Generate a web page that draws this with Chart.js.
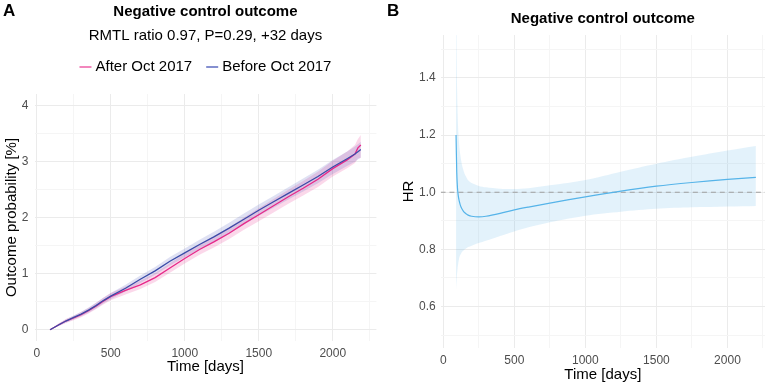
<!DOCTYPE html>
<html>
<head>
<meta charset="utf-8">
<script src="https://cdn.jsdelivr.net/npm/chart.js@4.4.1/dist/chart.umd.min.js"></script>
<style>
  html, body { margin: 0; padding: 0; background: #fff; }
  #wrap { position: relative; width: 768px; height: 385px; }
  canvas { position: absolute; top: 0; }
  #chartA { left: 0; }
  #chartB { left: 384px; }
</style>
</head>
<body>
<div id="wrap">
  <canvas id="chartA" width="384" height="385"></canvas>
  <canvas id="chartB" width="384" height="385"></canvas>
</div>
<script>
// ---- panel A: cumulative outcome probability [%]
const daysA = [90, 150, 200, 250, 300, 350, 400, 450, 500, 600, 700, 800, 900, 1000, 1100, 1200, 1300, 1400, 1500, 1600, 1700, 1800, 1900, 2000, 2100, 2150, 2170, 2190]
const afterOct = [0, 0.09, 0.16, 0.21, 0.27, 0.34, 0.42, 0.51, 0.59, 0.70, 0.80, 0.93, 1.10, 1.27, 1.43, 1.57, 1.72, 1.89, 2.05, 2.21, 2.37, 2.52, 2.68, 2.87, 3.03, 3.13, 3.24, 3.29]
const afterLow = [0, 0.065, 0.125, 0.17, 0.225, 0.29, 0.365, 0.45, 0.525, 0.63, 0.725, 0.85, 1.015, 1.18, 1.335, 1.47, 1.615, 1.78, 1.935, 2.09, 2.245, 2.39, 2.545, 2.73, 2.88, 2.97, 3.05, 3.06]
const afterHigh = [0, 0.115, 0.195, 0.25, 0.315, 0.39, 0.475, 0.57, 0.655, 0.77, 0.875, 1.01, 1.185, 1.36, 1.525, 1.67, 1.825, 2.0, 2.165, 2.33, 2.495, 2.65, 2.815, 3.01, 3.18, 3.29, 3.40, 3.47]
const beforeOct = [0, 0.09, 0.16, 0.22, 0.28, 0.35, 0.43, 0.52, 0.60, 0.74, 0.90, 1.05, 1.22, 1.37, 1.52, 1.66, 1.81, 1.97, 2.13, 2.28, 2.43, 2.58, 2.73, 2.90, 3.05, 3.13, 3.17, 3.21]
const beforeLow = [0, 0.07, 0.13, 0.185, 0.24, 0.305, 0.38, 0.47, 0.545, 0.68, 0.835, 0.98, 1.145, 1.29, 1.435, 1.57, 1.715, 1.87, 2.03, 2.175, 2.32, 2.465, 2.61, 2.775, 2.92, 2.995, 3.035, 3.07]
const beforeHigh = [0, 0.11, 0.19, 0.255, 0.32, 0.395, 0.48, 0.57, 0.655, 0.80, 0.965, 1.12, 1.295, 1.45, 1.605, 1.75, 1.905, 2.07, 2.23, 2.385, 2.54, 2.695, 2.85, 3.025, 3.18, 3.265, 3.305, 3.35]

// ---- panel B: time-varying hazard ratio
const daysB = [90, 95, 100, 105, 110, 115, 120, 130, 140, 150, 160, 175, 200, 250, 300, 400, 500, 600, 750, 1000, 1250, 1500, 1750, 2000, 2200]
const hr = [1.20, 1.07, 1.015, 0.99, 0.975, 0.964, 0.955, 0.943, 0.935, 0.929, 0.925, 0.92, 0.916, 0.914, 0.916, 0.926, 0.938, 0.948, 0.962, 0.984, 1.004, 1.021, 1.034, 1.045, 1.052]
const hrLow = [0.66, 0.70, 0.73, 0.75, 0.765, 0.775, 0.78, 0.79, 0.795, 0.80, 0.803, 0.808, 0.813, 0.822, 0.83, 0.847, 0.863, 0.877, 0.895, 0.918, 0.932, 0.942, 0.947, 0.95, 0.952]
const hrHigh = [1.9, 1.45, 1.3, 1.22, 1.18, 1.15, 1.13, 1.10, 1.08, 1.065, 1.055, 1.042, 1.032, 1.022, 1.017, 1.012, 1.011, 1.014, 1.024, 1.043, 1.072, 1.10, 1.124, 1.146, 1.162]
const refDays = [-18, 2264]
const refHr = [1, 1]

// ---- ticks (major ones get labels, the rest are minor grid lines)
const xTicks = [0, 250, 500, 750, 1000, 1250, 1500, 1750, 2000, 2250]
const xMajor = [0, 500, 1000, 1500, 2000]
const yTicksA = [0, 0.5, 1, 1.5, 2, 2.5, 3, 3.5, 4]
const yMajorA = [0, 1, 2, 3, 4]
const yTicksB = [0.5, 0.6, 0.7, 0.8, 0.9, 1.0, 1.1, 1.2, 1.3, 1.4, 1.5]
const yMajorB = [0.6, 0.8, 1.0, 1.2, 1.4]

const FONT = '"Liberation Sans", Arial, Helvetica, sans-serif'
const PINK = '#E7298A'
const BLUE = '#3B4BA8'
const SKY = '#56B4E9'

const pts = (xs, ys) => xs.map((x, i) => ({x: x, y: ys[i]}))
const isIn = (arr, v) => arr.some(a => Math.abs(a - v) < 1e-6)

const gridFor = (major) => ({
    color: c => isIn(major, c.tick.value) ? '#EBEBEB' : '#F5F5F5',
    lineWidth: 1,
    drawTicks: false
})

const setTicks = (list) => (scale) => { scale.ticks = list.map(v => ({value: v})) }

// panel tag + hand drawn legend
const panelDecor = {
    id: 'panelDecor',
    afterDraw(chart, args, opts) {
        const ctx = chart.ctx
        ctx.save()
        ctx.fillStyle = '#000'
        ctx.font = 'bold 17px ' + FONT
        ctx.textBaseline = 'alphabetic'
        ctx.textAlign = 'left'
        ctx.fillText(opts.tag, 3, 16)
        if (opts.items) {
            ctx.font = '15px ' + FONT
            ctx.textBaseline = 'middle'
            const lineW = 12, gap = 4, sep = 14
            let total = 0
            opts.items.forEach((it, i) => {
                total += lineW + gap + ctx.measureText(it.text).width + (i ? sep : 0)
            })
            const area = chart.chartArea
            let x = (area.left + area.right) / 2 - total / 2
            const y = opts.y
            opts.items.forEach(it => {
                ctx.strokeStyle = it.color
                ctx.lineWidth = 1.5
                ctx.beginPath()
                ctx.moveTo(x, y)
                ctx.lineTo(x + lineW, y)
                ctx.stroke()
                x += lineW + gap
                ctx.fillStyle = '#000'
                ctx.fillText(it.text, x, y)
                x += ctx.measureText(it.text).width + sep
            })
        }
        ctx.restore()
    }
}

Chart.register(panelDecor)

var chartA = new Chart(document.getElementById('chartA'), {
    type: 'line',
    data: {
        datasets: [
            { label: 'Before Oct 2017', data: pts(daysA, beforeOct), borderColor: BLUE, borderWidth: 1.3, pointRadius: 0, fill: false },
            { label: 'After Oct 2017', data: pts(daysA, afterOct), borderColor: PINK, borderWidth: 1.3, pointRadius: 0, fill: false },
            { label: 'before hi', data: pts(daysA, beforeHigh), borderWidth: 0, pointRadius: 0, fill: '+1', backgroundColor: 'rgba(75, 90, 190, 0.18)' },
            { label: 'before lo', data: pts(daysA, beforeLow), borderWidth: 0, pointRadius: 0, fill: false },
            { label: 'after hi', data: pts(daysA, afterHigh), borderWidth: 0, pointRadius: 0, fill: '+1', backgroundColor: 'rgba(231, 41, 138, 0.18)' },
            { label: 'after lo', data: pts(daysA, afterLow), borderWidth: 0, pointRadius: 0, fill: false }
        ]
    },
    options: {
        responsive: false,
        animation: false,
        devicePixelRatio: 1,
        layout: { padding: { left: 0, right: 7.6, top: 0, bottom: 0 } },
        elements: { line: { tension: 0 } },
        plugins: {
            legend: { display: false },
            tooltip: { enabled: false },
            title: {
                display: true, fullSize: false,
                text: 'Negative control outcome',
                color: '#000',
                font: { family: FONT, size: 15, weight: 'bold' },
                padding: { top: 3, bottom: 2 }
            },
            subtitle: {
                display: true, fullSize: false,
                text: 'RMTL ratio 0.97, P=0.29, +32 days',
                color: '#000',
                font: { family: FONT, size: 15 },
                padding: { top: 3.4, bottom: 49.6 }
            },
            panelDecor: {
                tag: 'A', y: 67,
                items: [ { text: 'After Oct 2017', color: '#EE5FA7' }, { text: 'Before Oct 2017', color: '#5C6BC0' } ]
            }
        },
        scales: {
            x: {
                type: 'linear', min: -15, max: 2295,
                afterBuildTicks: setTicks(xTicks),
                afterFit: s => { s.height = 44 },
                border: { display: false },
                grid: gridFor(xMajor),
                ticks: {
                    padding: 5, color: '#4D4D4D', maxRotation: 0, autoSkip: false,
                    font: { family: FONT, size: 12 },
                    callback: v => isIn(xMajor, v) ? String(v) : ''
                },
                title: { display: true, text: 'Time [days]', color: '#000', font: { family: FONT, size: 15 }, padding: { top: 0, bottom: 8.7 } }
            },
            y: {
                min: -0.2, max: 4.2,
                afterBuildTicks: setTicks(yTicksA),
                afterFit: s => { s.width = 34.5 },
                border: { display: false },
                grid: gridFor(yMajorA),
                ticks: {
                    padding: 6, color: '#4D4D4D', autoSkip: false,
                    font: { family: FONT, size: 12 },
                    callback: v => isIn(yMajorA, v) ? String(v) : ''
                },
                title: { display: true, text: 'Outcome probability [%]', color: '#000', font: { family: FONT, size: 15 }, padding: { top: 3, bottom: 0 } }
            }
        }
    }
})

var chartB = new Chart(document.getElementById('chartB'), {
    type: 'line',
    data: {
        datasets: [
            { label: 'HR', data: pts(daysB, hr), borderColor: SKY, borderWidth: 1.2, pointRadius: 0, fill: false },
            { label: 'HR = 1', data: pts(refDays, refHr), borderColor: '#A0A0A0', borderWidth: 1.1, borderDash: [5, 4], pointRadius: 0, fill: false },
            { label: 'hi', data: pts(daysB, hrHigh), borderWidth: 0, pointRadius: 0, fill: '+1', backgroundColor: 'rgba(86, 180, 233, 0.17)' },
            { label: 'lo', data: pts(daysB, hrLow), borderWidth: 0, pointRadius: 0, fill: false }
        ]
    },
    options: {
        responsive: false,
        animation: false,
        devicePixelRatio: 1,
        layout: { padding: { left: 0, right: 0, top: 0, bottom: 0 } },
        elements: { line: { tension: 0.3 } },
        plugins: {
            legend: { display: false },
            tooltip: { enabled: false },
            title: {
                display: true, fullSize: false,
                text: 'Negative control outcome',
                color: '#000',
                font: { family: FONT, size: 15, weight: 'bold' },
                padding: { top: 9.7, bottom: 7.3 }
            },
            panelDecor: { tag: 'B' }
        },
        scales: {
            x: {
                type: 'linear', min: -18, max: 2264,
                afterBuildTicks: setTicks(xTicks),
                afterFit: s => { s.height = 37 },
                border: { display: false },
                grid: gridFor(xMajor),
                ticks: {
                    padding: 5, color: '#4D4D4D', maxRotation: 0, autoSkip: false,
                    font: { family: FONT, size: 12 },
                    callback: v => isIn(xMajor, v) ? String(v) : ''
                },
                title: { display: true, text: 'Time [days]', color: '#000', font: { family: FONT, size: 15 }, padding: { top: 0, bottom: 1 } }
            },
            y: {
                min: 0.455, max: 1.55,
                afterBuildTicks: setTicks(yTicksB),
                afterFit: s => { s.width = 56.7 },
                border: { display: false },
                grid: gridFor(yMajorB),
                ticks: {
                    padding: 5, color: '#4D4D4D', autoSkip: false,
                    font: { family: FONT, size: 12 },
                    callback: v => isIn(yMajorB, v) ? v.toFixed(1) : ''
                },
                title: { display: true, text: 'HR', color: '#000', font: { family: FONT, size: 15 }, padding: { top: 16, bottom: 0 } }
            }
        }
    }
})
</script>
</body>
</html>
